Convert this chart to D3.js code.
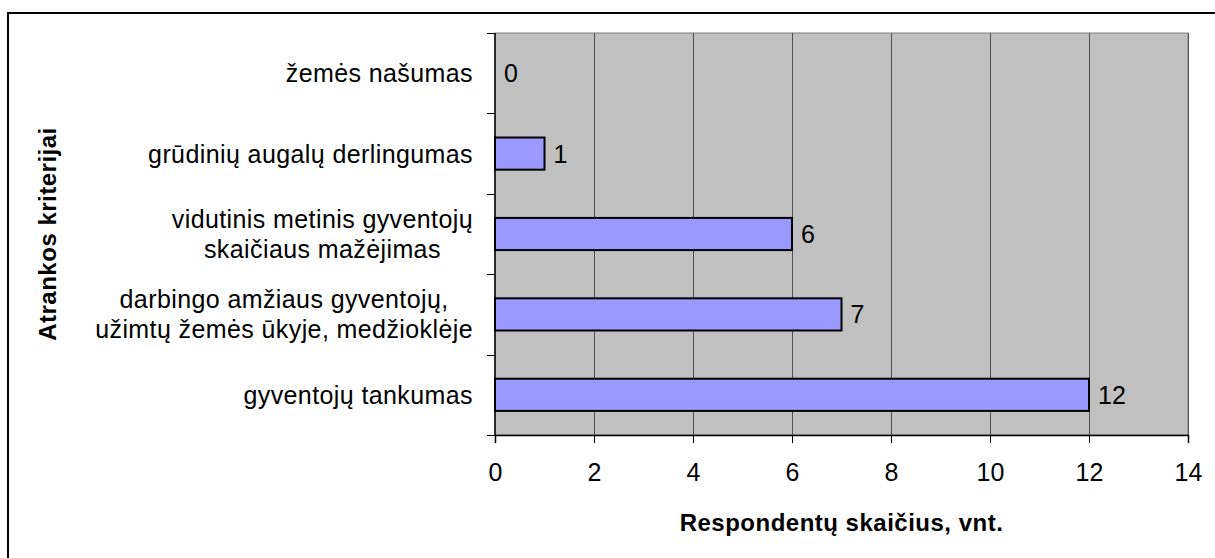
<!DOCTYPE html>
<html>
<head>
<meta charset="utf-8">
<script src="https://cdn.jsdelivr.net/npm/d3@7"></script>
<style>
    body { margin: 0; background: #fff; }
    svg { display: block; font-family: Arial, "Liberation Sans", sans-serif; }
</style>
</head>
<body>
<div id="chart"></div>
<script>
// categories listed top to bottom, as in the picture
const categories = [
    ["žemės našumas"],
    ["grūdinių augalų derlingumas"],
    ["vidutinis metinis gyventojų", "skaičiaus mažėjimas"],
    ["darbingo amžiaus gyventojų,", "užimtų žemės ūkyje, medžioklėje"],
    ["gyventojų tankumas"]
];
const values = [0, 1, 6, 7, 12];
const xTicks = [0, 2, 4, 6, 8, 10, 12, 14];

const xTitle = "Respondentų skaičius, vnt.";
const yTitle = "Atrankos kriterijai";

const width = 1215, height = 558;
const margin = { top: 33, right: 27, bottom: 123, left: 495 };

const svg = d3.select('#chart').append('svg')
    .attr('width', width)
    .attr('height', height);

// outer chart frame (runs past the right and bottom edges)
svg.append('rect')
    .attr('x', 8).attr('y', 13)
    .attr('width', width + 20).attr('height', height + 20)
    .attr('fill', 'white')
    .attr('stroke', 'black')
    .attr('stroke-width', 2);

const innerW = width - margin.left - margin.right;
const innerH = height - margin.top - margin.bottom;

const g = svg.append('g')
    .attr('transform', 'translate(' + margin.left + ',' + margin.top + ')');

const x = d3.scaleLinear().domain([0, 14]).range([0, innerW]);
const y = d3.scaleBand()
    .domain(d3.range(categories.length))
    .range([0, innerH])
    .paddingInner(0)
    .paddingOuter(0);

// plot area
g.append('rect')
    .attr('width', innerW).attr('height', innerH)
    .attr('fill', '#C0C0C0')
    .attr('stroke', '#808080')
    .attr('stroke-width', 1);

// vertical gridlines
g.selectAll('.grid')
    .data(xTicks.slice(1))
    .join('line')
    .attr('class', 'grid')
    .attr('x1', d => Math.round(x(d)) + 0.5)
    .attr('x2', d => Math.round(x(d)) + 0.5)
    .attr('y1', 0).attr('y2', innerH)
    .attr('stroke', '#505050')
    .attr('stroke-width', 1);

// bars
const barH = y.bandwidth() * 0.4;
g.selectAll('.bar')
    .data(values)
    .join('rect')
    .attr('class', 'bar')
    .attr('x', x(0))
    .attr('y', (d, i) => y(i) + (y.bandwidth() - barH) / 2)
    .attr('width', d => x(d) - x(0))
    .attr('height', barH)
    .attr('fill', '#9999FF')
    .attr('stroke', 'black')
    .attr('stroke-width', d => d > 0 ? 2 : 0);

// value labels
g.selectAll('.val')
    .data(values)
    .join('text')
    .attr('class', 'val')
    .attr('x', d => x(d) + 9)
    .attr('y', (d, i) => y(i) + y.bandwidth() / 2)
    .attr('dy', '0.36em')
    .style('font-size', '25px')
    .text(d => d);

// x axis
const xAxis = g.append('g')
    .attr('transform', 'translate(0,' + innerH + ')')
    .call(d3.axisBottom(x).tickValues(xTicks).tickSize(8).tickPadding(20));
xAxis.select('.domain').attr('stroke', 'black').attr('stroke-width', 1.5);
xAxis.selectAll('.tick line').attr('stroke', 'black');
xAxis.selectAll('.tick text')
    .style('font-size', '25px')
    .style('font-family', 'Arial, "Liberation Sans", sans-serif')
    .attr('fill', 'black');

// y axis: ticks between categories
const yEdges = d3.range(categories.length + 1).map(i => i === categories.length ? innerH : y(i));
g.append('line')
    .attr('x1', 0).attr('x2', 0)
    .attr('y1', 0).attr('y2', innerH)
    .attr('stroke', 'black').attr('stroke-width', 1.5);
g.selectAll('.ytick')
    .data(yEdges)
    .join('line')
    .attr('class', 'ytick')
    .attr('x1', -8).attr('x2', 0)
    .attr('y1', d => Math.round(d) + 0.5)
    .attr('y2', d => Math.round(d) + 0.5)
    .attr('stroke', 'black');

// category labels
const lineH = 30;
g.selectAll('.cat')
    .data(categories)
    .join('text')
    .attr('class', 'cat')
    .attr('text-anchor', 'middle')
    .style('font-size', '25px')
    .style('letter-spacing', '0.4px')
    .each(function (lines, i) {
        const t = d3.select(this);
        const cy = y(i) + y.bandwidth() / 2;
        lines.forEach((line, k) => {
            t.append('tspan')
                .attr('x', 0)
                .attr('y', cy + (k - (lines.length - 1) / 2) * lineH)
                .attr('dy', '0.36em')
                .text(line);
        });
    })
    .each(function () {
        // right-align the whole block to the axis, lines centred within it
        const bb = this.getBBox();
        d3.select(this).attr('transform', 'translate(' + (-22 - bb.width / 2) + ',0)');
    });

// axis titles
g.append('text')
    .attr('x', innerW / 2)
    .attr('y', innerH + 87)
    .attr('dy', '0.36em')
    .attr('text-anchor', 'middle')
    .style('font-size', '24px')
    .style('font-weight', 'bold')
    .style('letter-spacing', '0.5px')
    .text(xTitle);

svg.append('text')
    .attr('transform', 'translate(47,' + (margin.top + innerH / 2) + ') rotate(-90)')
    .attr('dy', '0.36em')
    .attr('text-anchor', 'middle')
    .style('font-size', '24px')
    .style('font-weight', 'bold')
    .style('letter-spacing', '0.5px')
    .text(yTitle);
</script>
</body>
</html>
